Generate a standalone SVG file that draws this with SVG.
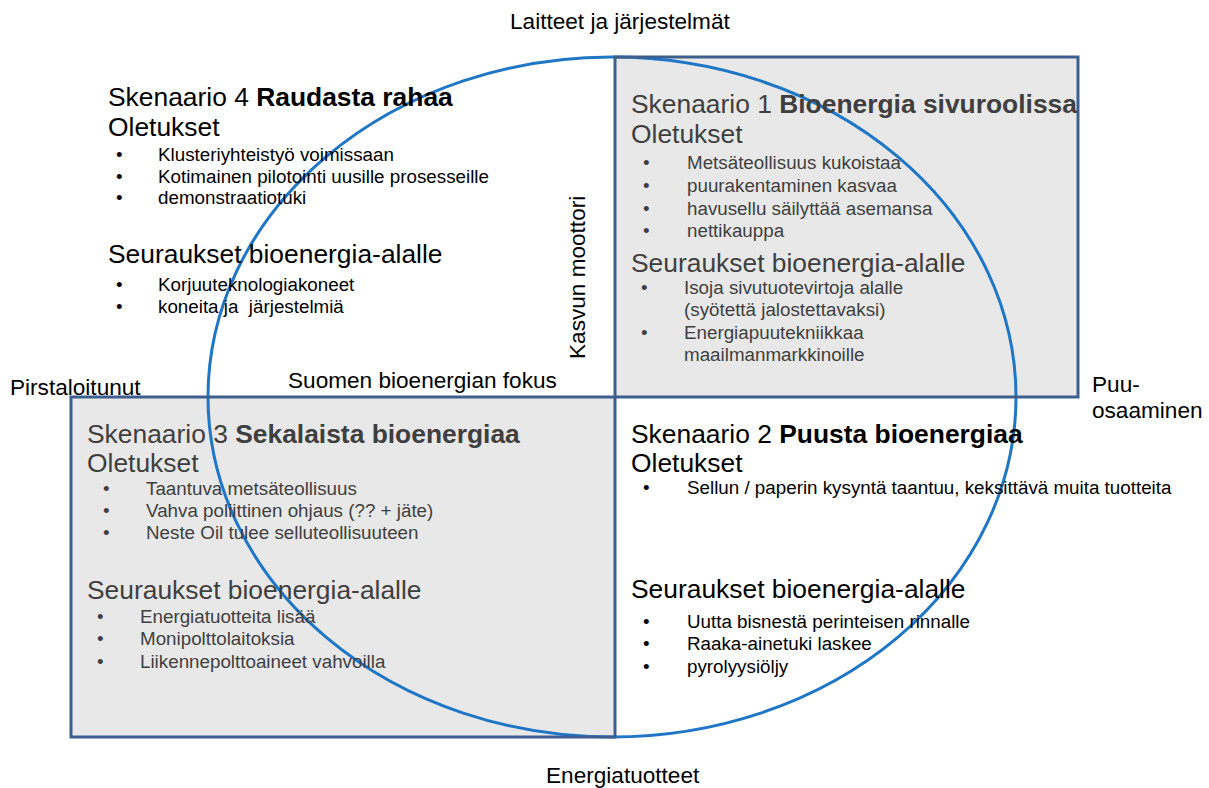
<svg xmlns="http://www.w3.org/2000/svg" width="1209" height="788" viewBox="0 0 1209 788">
  <style>
    text { font-family: "Liberation Sans", Arial, sans-serif; }
    .axis { font-size: 22.6px; fill: #000; }
    .title { font-size: 26.4px; }
    .head { font-size: 26.4px; }
    .item { font-size: 18.8px; }
    .b { font-weight: bold; }
    .dark { fill: #000; }
    .grey { fill: #3f3f3f; }
    .panel { fill: #e8e8e8; stroke: none; }
    .frame { fill: none; stroke: #3c5f8e; stroke-width: 3; }
    .oval { fill: none; stroke: #1f76c6; stroke-width: 3; }
  </style>

  <!-- shaded quadrant backgrounds -->
  <rect class="panel" x="615" y="57" width="463" height="340"/>
  <rect class="panel" x="71" y="397" width="544" height="340"/>

  <!-- focus ellipse and quadrant frames -->
  <g id="connectors">
    <ellipse class="oval" cx="612" cy="397" rx="404" ry="340"/>
    <rect class="frame" x="615" y="57" width="463" height="340"/>
    <rect class="frame" x="71" y="397" width="544" height="340"/>
  </g>

  <!-- axis labels -->
  <g id="axis-top"><text class="axis" x="510" y="29">Laitteet ja järjestelmät</text></g>
  <g id="axis-bottom"><text class="axis" x="546" y="783">Energiatuotteet</text></g>
  <g id="axis-left"><text class="axis" x="10" y="395">Pirstaloitunut</text></g>
  <g id="axis-right">
    <text class="axis" x="1092" y="392">Puu-</text>
    <text class="axis" x="1092" y="418">osaaminen</text>
  </g>
  <g id="label-focus"><text class="axis" x="288" y="388">Suomen bioenergian fokus</text></g>
  <g id="label-engine"><text class="axis" transform="translate(585,359) rotate(-90)">Kasvun moottori</text></g>

  <!-- Scenario 4 -->
  <g id="scenario-4" class="dark">
    <text class="title" x="108" y="106">Skenaario 4 <tspan class="b">Raudasta rahaa</tspan></text>
    <text class="head" x="108" y="136">Oletukset</text>
    <g class="item">
      <text x="116" y="161">•</text><text x="158" y="161">Klusteriyhteistyö voimissaan</text>
      <text x="116" y="183">•</text><text x="158" y="183">Kotimainen pilotointi uusille prosesseille</text>
      <text x="116" y="204">•</text><text x="158" y="204">demonstraatiotuki</text>
    </g>
    <text class="head" x="108" y="263">Seuraukset bioenergia-alalle</text>
    <g class="item">
      <text x="116" y="291">•</text><text x="158" y="291">Korjuuteknologiakoneet</text>
      <text x="116" y="313">•</text><text x="158" y="313" xml:space="preserve">koneita ja  järjestelmiä</text>
    </g>
  </g>

  <!-- Scenario 1 -->
  <g id="scenario-1" class="grey">
    <text class="title" x="631" y="113">Skenaario 1 <tspan class="b">Bioenergia sivuroolissa</tspan></text>
    <text class="head" x="631" y="143">Oletukset</text>
    <g class="item">
      <text x="643" y="169">•</text><text x="687" y="169">Metsäteollisuus kukoistaa</text>
      <text x="643" y="192">•</text><text x="687" y="192">puurakentaminen kasvaa</text>
      <text x="643" y="215">•</text><text x="687" y="215">havusellu säilyttää asemansa</text>
      <text x="643" y="237">•</text><text x="687" y="237">nettikauppa</text>
    </g>
    <text class="head" x="631" y="272">Seuraukset bioenergia-alalle</text>
    <g class="item">
      <text x="641" y="294">•</text><text x="684" y="294">Isoja sivutuotevirtoja alalle</text>
      <text x="684" y="316">(syötettä jalostettavaksi)</text>
      <text x="641" y="339">•</text><text x="684" y="339">Energiapuutekniikkaa</text>
      <text x="684" y="361">maailmanmarkkinoille</text>
    </g>
  </g>

  <!-- Scenario 3 -->
  <g id="scenario-3" class="grey">
    <text class="title" x="87" y="443">Skenaario 3 <tspan class="b">Sekalaista bioenergiaa</tspan></text>
    <text class="head" x="87" y="472">Oletukset</text>
    <g class="item">
      <text x="103" y="495">•</text><text x="146" y="495">Taantuva metsäteollisuus</text>
      <text x="103" y="517">•</text><text x="146" y="517">Vahva poliittinen ohjaus (?? + jäte)</text>
      <text x="103" y="539">•</text><text x="146" y="539">Neste Oil tulee selluteollisuuteen</text>
    </g>
    <text class="head" x="87" y="599">Seuraukset bioenergia-alalle</text>
    <g class="item">
      <text x="97" y="623">•</text><text x="140" y="623">Energiatuotteita lisää</text>
      <text x="97" y="645">•</text><text x="140" y="645">Monipolttolaitoksia</text>
      <text x="97" y="668">•</text><text x="140" y="668">Liikennepolttoaineet vahvoilla</text>
    </g>
  </g>

  <!-- Scenario 2 -->
  <g id="scenario-2" class="dark">
    <text class="title" x="631" y="443">Skenaario 2 <tspan class="b">Puusta bioenergiaa</tspan></text>
    <text class="head" x="631" y="472">Oletukset</text>
    <g class="item">
      <text x="643" y="494">•</text><text x="687" y="494">Sellun / paperin kysyntä taantuu, keksittävä muita tuotteita</text>
    </g>
    <text class="head" x="631" y="598">Seuraukset bioenergia-alalle</text>
    <g class="item">
      <text x="643" y="628">•</text><text x="687" y="628">Uutta bisnestä perinteisen rinnalle</text>
      <text x="643" y="650">•</text><text x="687" y="650">Raaka-ainetuki laskee</text>
      <text x="643" y="673">•</text><text x="687" y="673">pyrolyysiöljy</text>
    </g>
  </g>
</svg>
